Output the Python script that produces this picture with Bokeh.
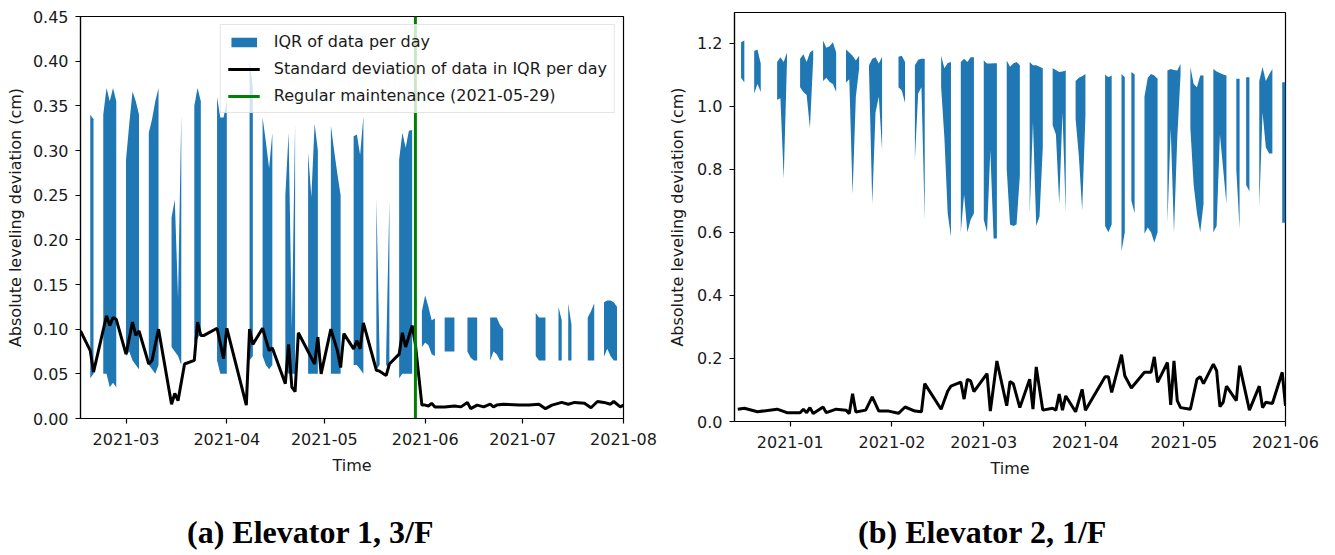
import numpy as np
import pandas as pd
from bokeh.plotting import figure
from bokeh.layouts import row, column, Spacer
from bokeh.models import (ColumnDataSource, Legend, LegendItem, Label,
                          DatetimeTickFormatter, MonthsTicker, FixedTicker,
                          NumeralTickFormatter, Range1d)
from bokeh.embed import file_html
from bokeh.resources import INLINE

BLUE = "#1f77b4"
FONT_PX = "16px"

# ---------------- Elevator 1, 3/F ----------------
e1_iqr_dates = [
    "2021-02-18", "2021-02-19",
    "2021-02-22", "2021-02-23", "2021-02-24", "2021-02-25", "2021-02-26",
    "2021-03-01", "2021-03-02", "2021-03-03", "2021-03-04", "2021-03-05",
    "2021-03-08", "2021-03-09", "2021-03-10", "2021-03-11",
    "2021-03-15", "2021-03-16", "2021-03-17", "2021-03-18",
    "2021-03-22", "2021-03-23", "2021-03-24",
    "2021-03-29", "2021-03-30", "2021-03-31", "2021-04-01",
    "2021-04-08", "2021-04-09",
    "2021-04-12", "2021-04-13", "2021-04-14", "2021-04-15",
    "2021-04-19", "2021-04-20", "2021-04-21", "2021-04-22",
    "2021-04-26", "2021-04-27", "2021-04-28", "2021-04-29",
    "2021-05-03", "2021-05-04", "2021-05-05", "2021-05-06",
    "2021-05-10", "2021-05-11", "2021-05-12", "2021-05-13",
    "2021-05-17", "2021-05-18",
    "2021-05-20", "2021-05-21",
    "2021-05-24", "2021-05-25", "2021-05-26", "2021-05-27", "2021-05-28",
    "2021-05-31", "2021-06-01", "2021-06-02", "2021-06-03", "2021-06-04",
    "2021-06-07", "2021-06-08", "2021-06-09", "2021-06-10",
    "2021-06-14", "2021-06-15", "2021-06-16", "2021-06-17",
    "2021-06-21", "2021-06-22", "2021-06-23", "2021-06-24", "2021-06-25",
    "2021-07-05", "2021-07-06", "2021-07-07", "2021-07-08",
    "2021-07-12", "2021-07-13",
    "2021-07-15", "2021-07-16",
    "2021-07-21", "2021-07-22", "2021-07-23",
    "2021-07-26", "2021-07-27", "2021-07-28", "2021-07-29", "2021-07-30",
]
e1_q1 = [
    0.045, 0.050,
    0.050, 0.050, 0.035, 0.040, 0.035,
    0.070, 0.075, 0.065, 0.060, 0.055,
    0.060, 0.055, 0.050, 0.060,
    0.080, 0.075, 0.070, 0.060,
    0.085, 0.090, 0.095,
    0.065, 0.050, 0.050, 0.050,
    0.065, 0.070,
    0.070, 0.060, 0.055, 0.060,
    0.055, 0.050, 0.050, 0.050,
    0.050, 0.050, 0.050, 0.050,
    0.050, 0.050, 0.050, 0.050,
    0.060, 0.060, 0.055, 0.050,
    0.055, 0.060,
    0.060, 0.055,
    0.045, 0.050, 0.050, 0.050, 0.050,
    0.080, 0.085, 0.082, 0.072, 0.070,
    0.075, 0.075, 0.075, 0.075,
    0.075, 0.068, 0.065, 0.065,
    0.065, 0.075, 0.072, 0.065, 0.065,
    0.070, 0.065, 0.065, 0.065,
    0.065, 0.065,
    0.065, 0.065,
    0.065, 0.065, 0.065,
    0.069, 0.078, 0.070, 0.065, 0.065,
]
e1_q3 = [
    0.340, 0.335,
    0.340, 0.370, 0.355, 0.370, 0.355,
    0.290, 0.330, 0.366, 0.355, 0.340,
    0.320, 0.335, 0.355, 0.370,
    0.225, 0.245, 0.135, 0.340,
    0.350, 0.370, 0.355,
    0.360, 0.337, 0.337, 0.356,
    0.400, 0.370,
    0.337, 0.310, 0.280, 0.320,
    0.250, 0.320, 0.100, 0.330,
    0.298, 0.248, 0.330, 0.300,
    0.328, 0.300, 0.274, 0.250,
    0.316, 0.318, 0.295, 0.338,
    0.245, 0.070,
    0.070, 0.245,
    0.290, 0.320, 0.303, 0.322, 0.323,
    0.120, 0.138, 0.125, 0.110, 0.112,
    0.113, 0.113, 0.113, 0.113,
    0.113, 0.113, 0.113, 0.113,
    0.113, 0.113, 0.113, 0.105, 0.100,
    0.118, 0.113, 0.113, 0.113,
    0.125, 0.110,
    0.129, 0.105,
    0.113, 0.120, 0.129,
    0.130, 0.132, 0.132, 0.130, 0.125,
]
e1_std_dates = [
    "2021-02-15", "2021-02-18", "2021-02-19", "2021-02-23", "2021-02-24",
    "2021-02-25", "2021-02-26", "2021-03-01", "2021-03-03", "2021-03-04",
    "2021-03-05", "2021-03-08", "2021-03-09", "2021-03-11", "2021-03-15",
    "2021-03-16", "2021-03-17", "2021-03-19", "2021-03-22", "2021-03-23",
    "2021-03-24", "2021-03-25", "2021-03-29", "2021-03-31", "2021-04-01",
    "2021-04-07", "2021-04-08", "2021-04-09", "2021-04-12", "2021-04-14",
    "2021-04-15", "2021-04-19", "2021-04-20", "2021-04-21", "2021-04-22",
    "2021-04-23", "2021-04-28", "2021-04-29", "2021-04-30", "2021-05-03",
    "2021-05-05", "2021-05-06", "2021-05-07", "2021-05-10", "2021-05-11",
    "2021-05-12", "2021-05-13", "2021-05-17", "2021-05-18", "2021-05-20",
    "2021-05-21", "2021-05-24", "2021-05-25", "2021-05-26", "2021-05-28",
    "2021-05-29", "2021-05-31", "2021-06-01", "2021-06-02", "2021-06-03",
    "2021-06-04", "2021-06-07", "2021-06-10", "2021-06-12", "2021-06-14",
    "2021-06-15", "2021-06-17", "2021-06-19", "2021-06-21", "2021-06-22",
    "2021-06-23", "2021-06-25", "2021-06-30", "2021-07-03", "2021-07-06",
    "2021-07-08", "2021-07-10", "2021-07-13", "2021-07-15", "2021-07-17",
    "2021-07-20", "2021-07-22", "2021-07-24", "2021-07-26", "2021-07-28",
    "2021-07-29", "2021-07-31", "2021-08-01",
]
e1_std = [
    0.098, 0.076, 0.052, 0.115, 0.104,
    0.113, 0.111, 0.072, 0.108, 0.093,
    0.098, 0.061, 0.065, 0.100, 0.016,
    0.028, 0.020, 0.061, 0.065, 0.108,
    0.093, 0.093, 0.101, 0.067, 0.101,
    0.015, 0.100, 0.083, 0.101, 0.076,
    0.079, 0.039, 0.083, 0.035, 0.030,
    0.096, 0.061, 0.091, 0.050, 0.100,
    0.076, 0.057, 0.095, 0.078, 0.087,
    0.078, 0.107, 0.054, 0.053, 0.048,
    0.061, 0.072, 0.096, 0.080, 0.104,
    0.083, 0.015, 0.015, 0.014, 0.017,
    0.013, 0.013, 0.014, 0.013, 0.018,
    0.011, 0.015, 0.013, 0.016, 0.013,
    0.015, 0.016, 0.015, 0.015, 0.016,
    0.011, 0.015, 0.018, 0.016, 0.018,
    0.017, 0.012, 0.019, 0.018, 0.016,
    0.019, 0.013, 0.015,
]
e1_maintenance = "2021-05-29"
e1_xlim = ("2021-02-15", "2021-08-01")
e1_yticks = [0.00, 0.05, 0.10, 0.15, 0.20, 0.25, 0.30, 0.35, 0.40, 0.45]

# ---------------- Elevator 2, 1/F ----------------
e2_iqr_dates = [
    "2020-12-17", "2020-12-18",
    "2020-12-21", "2020-12-22", "2020-12-23",
    "2020-12-28", "2020-12-29", "2020-12-30", "2020-12-31",
    "2021-01-04", "2021-01-05", "2021-01-06", "2021-01-07", "2021-01-08",
    "2021-01-11", "2021-01-12", "2021-01-13", "2021-01-14", "2021-01-15",
    "2021-01-18", "2021-01-19", "2021-01-20", "2021-01-21", "2021-01-22",
    "2021-01-25", "2021-01-26", "2021-01-27", "2021-01-28", "2021-01-29",
    "2021-02-03", "2021-02-04", "2021-02-05",
    "2021-02-08", "2021-02-09", "2021-02-10", "2021-02-11",
    "2021-02-16", "2021-02-17", "2021-02-18", "2021-02-19",
    "2021-02-22", "2021-02-23", "2021-02-24", "2021-02-25", "2021-02-26",
    "2021-03-01", "2021-03-02", "2021-03-03", "2021-03-04", "2021-03-05",
    "2021-03-08", "2021-03-09", "2021-03-10", "2021-03-11", "2021-03-12",
    "2021-03-15", "2021-03-16", "2021-03-17", "2021-03-18", "2021-03-19",
    "2021-03-22", "2021-03-23", "2021-03-24", "2021-03-25", "2021-03-26",
    "2021-03-29", "2021-03-30", "2021-03-31", "2021-04-01",
    "2021-04-07", "2021-04-08", "2021-04-09",
    "2021-04-12", "2021-04-13",
    "2021-04-15", "2021-04-16",
    "2021-04-19", "2021-04-20", "2021-04-21", "2021-04-22", "2021-04-23",
    "2021-04-26", "2021-04-27", "2021-04-28", "2021-04-29", "2021-04-30",
    "2021-05-03", "2021-05-04", "2021-05-05", "2021-05-06", "2021-05-07",
    "2021-05-10", "2021-05-11", "2021-05-12", "2021-05-13", "2021-05-14",
    "2021-05-17", "2021-05-18",
    "2021-05-20", "2021-05-21",
    "2021-05-24", "2021-05-25", "2021-05-26", "2021-05-27", "2021-05-28",
    "2021-05-31", "2021-06-01",
]
e2_q1 = [
    1.090, 1.075,
    1.040, 1.070, 1.045,
    1.020, 1.025, 0.770, 1.140,
    1.060, 1.045, 1.035, 0.930, 1.150,
    1.080, 1.090, 1.077, 1.070, 1.045,
    1.075, 1.085, 0.720, 1.030, 1.120,
    1.120, 0.690, 0.980, 1.030, 0.860,
    1.060, 1.050, 1.010,
    0.830, 1.040, 1.060, 0.640,
    1.060, 0.900, 0.660, 0.585,
    0.600, 0.720, 0.600, 0.640, 0.660,
    0.640, 0.600, 0.860, 0.580, 0.580,
    0.800, 0.625, 0.620, 0.625, 0.780,
    0.660, 0.950, 0.620, 0.650, 0.870,
    0.940, 0.910, 0.690, 0.980, 0.660,
    0.960, 0.840, 0.670, 0.970,
    0.620, 0.600, 0.625,
    0.540, 0.600,
    0.700, 0.660,
    0.595, 0.615, 0.600, 0.568, 0.600,
    0.630, 0.930, 0.600, 0.900, 1.100,
    0.930, 0.750, 0.660, 0.600, 0.690,
    0.600, 0.620, 0.910, 0.800, 0.690,
    0.800, 0.610,
    0.750, 0.730,
    0.680, 0.980, 0.870, 0.850, 0.850,
    0.630, 0.630,
]
e2_q3 = [
    1.203, 1.208,
    1.175, 1.180, 1.135,
    1.140, 1.155, 1.140, 1.170,
    1.150, 1.165, 1.140, 1.170, 1.178,
    1.208, 1.185, 1.190, 1.203, 1.170,
    1.180, 1.170, 1.160, 1.145, 1.160,
    1.130, 1.150, 1.155, 1.135, 1.157,
    1.157, 1.160, 1.140,
    1.130, 1.147, 1.150, 1.150,
    1.160, 1.120, 1.137, 1.140,
    1.140, 1.150, 1.140, 1.155, 1.155,
    1.145, 1.135, 1.135, 1.136, 1.136,
    1.145, 1.125, 1.135, 1.140, 1.130,
    1.140, 1.130, 1.130, 1.125, 1.120,
    1.120, 1.115, 1.108, 1.110, 1.113,
    1.080, 1.090, 1.095, 1.102,
    1.100, 1.092, 1.097,
    1.102, 1.092,
    1.108, 1.100,
    1.030, 1.090, 1.102, 1.097, 1.087,
    1.113, 1.118, 1.115, 1.113, 1.134,
    1.124, 1.070, 1.060, 1.097, 1.097,
    1.118, 1.110, 1.105, 1.100, 1.097,
    1.087, 1.087,
    1.092, 1.092,
    1.080, 1.124, 1.080, 1.100, 1.118,
    1.076, 1.076,
]
e2_std_dates = [
    "2020-12-16", "2020-12-18", "2020-12-22", "2020-12-28", "2020-12-31",
    "2021-01-04", "2021-01-05", "2021-01-06", "2021-01-07", "2021-01-08",
    "2021-01-11", "2021-01-12", "2021-01-15", "2021-01-18", "2021-01-19",
    "2021-01-20", "2021-01-21", "2021-01-24", "2021-01-26", "2021-01-28",
    "2021-01-31", "2021-02-03", "2021-02-05", "2021-02-08", "2021-02-10",
    "2021-02-11", "2021-02-16", "2021-02-18", "2021-02-19", "2021-02-22",
    "2021-02-23", "2021-02-24", "2021-02-25", "2021-02-26", "2021-03-02",
    "2021-03-03", "2021-03-05", "2021-03-08", "2021-03-09", "2021-03-10",
    "2021-03-12", "2021-03-15", "2021-03-16", "2021-03-17", "2021-03-19",
    "2021-03-22", "2021-03-23", "2021-03-24", "2021-03-25", "2021-03-26",
    "2021-03-29", "2021-03-31", "2021-04-01", "2021-04-07", "2021-04-08",
    "2021-04-09", "2021-04-12", "2021-04-13", "2021-04-15", "2021-04-19",
    "2021-04-21", "2021-04-22", "2021-04-23", "2021-04-26", "2021-04-27",
    "2021-04-28", "2021-04-29", "2021-04-30", "2021-05-03", "2021-05-05",
    "2021-05-06", "2021-05-07", "2021-05-10", "2021-05-11", "2021-05-12",
    "2021-05-13", "2021-05-14", "2021-05-17", "2021-05-18", "2021-05-21",
    "2021-05-24", "2021-05-25", "2021-05-26", "2021-05-28", "2021-05-31",
    "2021-06-01",
]
e2_std = [
    0.039, 0.042, 0.031, 0.039, 0.028,
    0.028, 0.039, 0.028, 0.044, 0.025,
    0.046, 0.028, 0.039, 0.036, 0.025,
    0.088, 0.030, 0.036, 0.078, 0.033,
    0.033, 0.026, 0.046, 0.033, 0.031,
    0.120, 0.039, 0.096, 0.112, 0.125,
    0.071, 0.134, 0.129, 0.095, 0.152,
    0.033, 0.192, 0.050, 0.127, 0.120,
    0.044, 0.134, 0.039, 0.173, 0.036,
    0.042, 0.036, 0.087, 0.036, 0.081,
    0.031, 0.102, 0.036, 0.142, 0.142,
    0.092, 0.212, 0.145, 0.106, 0.156,
    0.156, 0.205, 0.124, 0.187, 0.053,
    0.192, 0.066, 0.044, 0.039, 0.134,
    0.142, 0.120, 0.182, 0.161, 0.047,
    0.061, 0.112, 0.066, 0.177, 0.036,
    0.112, 0.044, 0.061, 0.057, 0.156,
    0.050,
]
e2_xlim = ("2020-12-15", "2021-06-01")
e2_yticks = [0.0, 0.2, 0.4, 0.6, 0.8, 1.0, 1.2]
e2_ymax = 1.297

captions = ["(a) Elevator 1, 3/F", "(b) Elevator 2, 1/F"]


def iqr_sources(dates, q1, q3):
    d = pd.to_datetime(pd.Series(dates))
    grp = (d.diff().dt.days.fillna(1) > 1).cumsum().values
    lo, hi = np.array(q1), np.array(q3)
    out = []
    for g in np.unique(grp):
        m = grp == g
        out.append(ColumnDataSource(dict(x=d[m].values, lo=lo[m], hi=hi[m])))
    return out


def make_fig(width, height, bl, br, bt, bb, xlim, ymax, yticks, yfmt):
    p = figure(width=width, height=height, x_axis_type="datetime",
               x_range=Range1d(pd.Timestamp(xlim[0]), pd.Timestamp(xlim[1])),
               y_range=Range1d(0, ymax),
               min_border_left=bl, min_border_right=br,
               min_border_top=bt, min_border_bottom=bb,
               output_backend="svg", toolbar_location=None)
    p.xgrid.visible = False
    p.ygrid.visible = False
    p.outline_line_color = "black"
    p.outline_line_width = 1.2
    p.outline_line_alpha = 1.0
    p.xaxis.ticker = MonthsTicker(months=list(range(1, 13)))
    p.xaxis.formatter = DatetimeTickFormatter(years="%Y-%m", months="%Y-%m",
                                              days="%Y-%m", hours="%Y-%m")
    p.yaxis.ticker = FixedTicker(ticks=yticks)
    p.yaxis.formatter = NumeralTickFormatter(format=yfmt)
    p.xaxis.axis_label = "Time"
    p.yaxis.axis_label = "Absolute leveling deviation (cm)"
    for ax in (p.xaxis[0], p.yaxis[0]):
        ax.major_label_text_font = "DejaVu Sans"
        ax.major_label_text_font_size = FONT_PX
        ax.major_label_text_color = "#1a1a1a"
        ax.axis_label_text_font = "DejaVu Sans"
        ax.axis_label_text_font_size = FONT_PX
        ax.axis_label_text_font_style = "normal"
        ax.axis_label_text_color = "#1a1a1a"
        ax.major_tick_out = 5
        ax.major_tick_in = 0
        ax.minor_tick_out = 0
        ax.minor_tick_in = 0
        ax.axis_line_width = 1.2
        ax.major_tick_line_width = 1.2
    p.xaxis.major_label_standoff = 9
    p.xaxis.axis_label_standoff = 8
    p.yaxis.major_label_standoff = 7
    p.yaxis.axis_label_standoff = 7
    return p


# ---- left panel ----
p1 = make_fig(665, 481, 80, 42, 12, 67, e1_xlim, 0.45, e1_yticks, "0.00")
p1.yaxis.axis_label_standoff = 5
iqr1 = [p1.varea(x="x", y1="lo", y2="hi", source=s, fill_color=BLUE, fill_alpha=1.0)
        for s in iqr_sources(e1_iqr_dates, e1_q1, e1_q3)]
std1 = p1.line(pd.to_datetime(e1_std_dates), e1_std, line_color="black", line_width=3)
maint_ts = pd.Timestamp(e1_maintenance)
maint_r = p1.line(x=[maint_ts, maint_ts], y=[e1_yticks[0], e1_yticks[-1]],
                  line_color="green", line_width=3)
legend = Legend(items=[
    LegendItem(label="IQR of data per day", renderers=[iqr1[0]]),
    LegendItem(label="Standard deviation of data in IQR per day", renderers=[std1]),
    LegendItem(label="Regular maintenance (" + e1_maintenance + ")", renderers=[maint_r]),
], location="top_right")
legend.label_text_font = "DejaVu Sans"
legend.label_text_font_size = FONT_PX
legend.label_text_color = "#1a1a1a"
legend.background_fill_color = "white"
legend.background_fill_alpha = 0.8
legend.border_line_color = "#cccccc"
legend.border_line_width = 1
legend.margin = 8
legend.padding = 7
legend.spacing = 8
legend.glyph_width = 32
legend.glyph_height = 12
legend.label_height = 12
legend.label_standoff = 14
p1.add_layout(legend)

# ---- right panel ----
p2 = make_fig(670, 485, 68, 50, 12, 64, e2_xlim, e2_ymax, e2_yticks, "0.0")
for s in iqr_sources(e2_iqr_dates, e2_q1, e2_q3):
    p2.varea(x="x", y1="lo", y2="hi", source=s, fill_color=BLUE, fill_alpha=1.0)
p2.line(pd.to_datetime(e2_std_dates), e2_std, line_color="black", line_width=3)

# ---- captions strip ----
p3 = figure(width=1335, height=70, x_range=Range1d(0, 1), y_range=Range1d(0, 1),
            x_axis_location=None, y_axis_location=None,
            min_border_left=0, min_border_right=0, min_border_top=0, min_border_bottom=0,
            output_backend="svg", toolbar_location=None)
p3.outline_line_color = None
p3.xgrid.visible = False
p3.ygrid.visible = False
for text, cx in zip(captions, (310, 982)):
    p3.add_layout(Label(x=cx, y=24, x_units="screen", y_units="screen", text=text,
                        text_font="Liberation Serif", text_font_size="32px",
                        text_font_style="bold", text_color="black",
                        text_align="center", text_baseline="middle"))

layout = column(row(column(Spacer(width=665, height=4), p1), column(p2)), p3)
open("out.html", "w").write(file_html(layout, INLINE))
